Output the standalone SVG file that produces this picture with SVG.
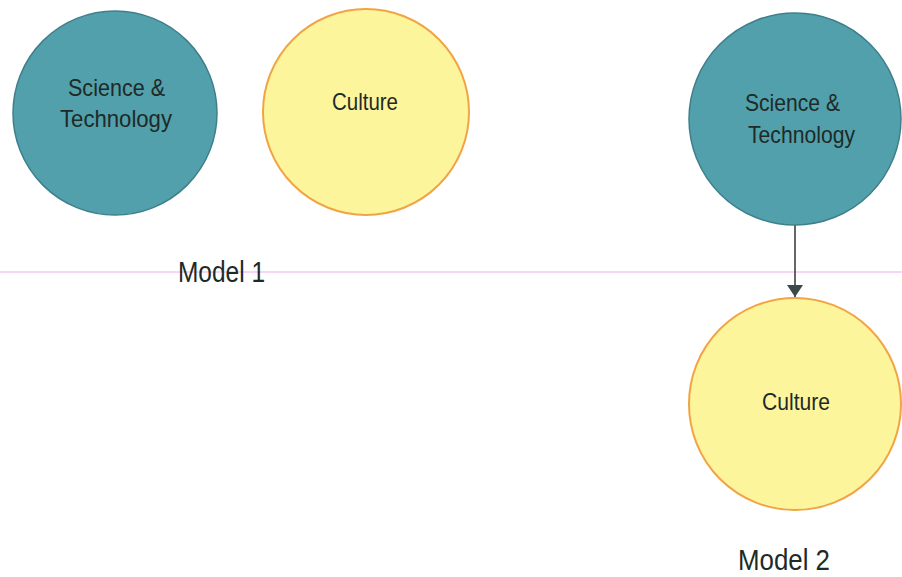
<svg xmlns="http://www.w3.org/2000/svg" width="902" height="577" viewBox="0 0 902 577">
<defs>
<style>
.st{fill:#52a0ab;stroke:#3f7f8c;stroke-width:1.5}
.cu{fill:#fdf59c;stroke:#f2a444;stroke-width:2}
text{font-family:"Liberation Sans",Arial,sans-serif;fill:#1e2a28;text-anchor:middle}
.lbl{font-size:24px}
.mdl{font-size:30px}
</style>
<marker id="ah" viewBox="0 0 12 16" refX="12" refY="8" markerWidth="12" markerHeight="16" markerUnits="userSpaceOnUse" orient="auto">
<path d="M0,0 L12,8 L0,16 Z" fill="#3a4a48"/>
</marker>
</defs>
<rect width="902" height="577" fill="#ffffff"/>
<line x1="0" y1="272" x2="902" y2="272" stroke="#f3c9f0" stroke-width="1.5"/>
<g id="connectors">
<line x1="795" y1="224" x2="795" y2="297" stroke="#333" stroke-width="1.5" marker-end="url(#ah)"/>
</g>
<g id="st1">
<circle class="st" cx="115" cy="113" r="102"/>
<text class="lbl" x="116.5" y="96" textLength="97" lengthAdjust="spacingAndGlyphs">Science &amp;</text>
<text class="lbl" x="116" y="127" textLength="112" lengthAdjust="spacingAndGlyphs">Technology</text>
</g>
<g id="cu1">
<circle class="cu" cx="366" cy="112" r="103"/>
<text class="lbl" x="365" y="110" textLength="66" lengthAdjust="spacingAndGlyphs">Culture</text>
</g>
<g id="model1"><text class="mdl" x="221.5" y="282" textLength="87" lengthAdjust="spacingAndGlyphs">Model 1</text></g>
<g id="st2">
<circle class="st" cx="795" cy="119" r="106"/>
<text class="lbl" x="792.5" y="111" textLength="95" lengthAdjust="spacingAndGlyphs">Science &amp;</text>
<text class="lbl" x="801.5" y="143" textLength="107" lengthAdjust="spacingAndGlyphs">Technology</text>
</g>
<g id="cu2">
<circle class="cu" cx="795" cy="404" r="106"/>
<text class="lbl" x="796" y="410" textLength="68" lengthAdjust="spacingAndGlyphs">Culture</text>
</g>
<g id="model2"><text class="mdl" x="784" y="570" textLength="92" lengthAdjust="spacingAndGlyphs">Model 2</text></g>
</svg>
